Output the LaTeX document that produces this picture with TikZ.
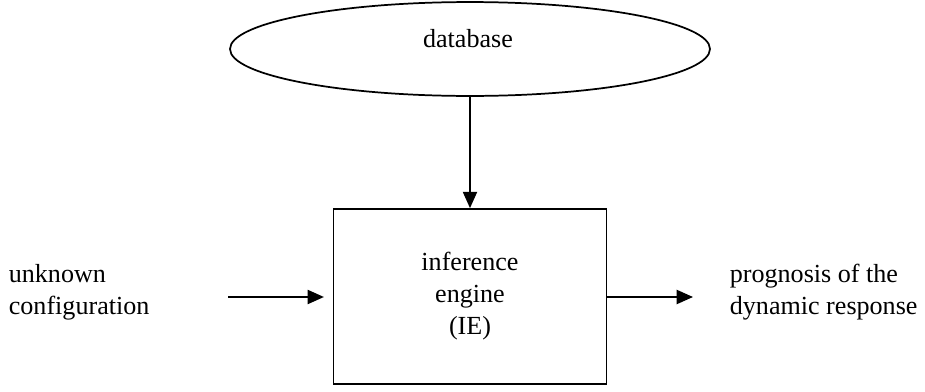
\documentclass[tikz,border=0pt]{standalone}
\usepackage{fontspec}
\setmainfont{Liberation Serif}
\usetikzlibrary{arrows.meta,shapes.geometric}
\begin{document}
\begin{tikzpicture}[x=.46pt,y=-.46pt,line width=.8pt,
  txt/.style={font=\fontsize{12pt}{14.7pt}\selectfont,inner sep=0pt,align=left},
  dbase/.style={draw,ellipse,minimum width=220.8pt,minimum height=43.2pt,inner sep=0pt},
  engine/.style={draw,rectangle,minimum width=125.6pt,minimum height=80.5pt,inner sep=0pt,
    font=\fontsize{12pt}{14.7pt}\selectfont,align=center},
  flow/.style={-{Triangle[length=7.5pt,width=6.5pt]}}]
\useasboundingbox (0,0) rectangle (925,392);
\node[dbase] (db) at (470,49) {};
\node[txt] (dbtext) at (468,39) {database};
\node[engine] (ie) at (470,296.5) {inference\\engine\\(IE)};
%%%%
\node[txt,anchor=west] (in) at (8,292) {unknown\\configuration};
\node[txt,anchor=west] (out) at (729,292) {prognosis of the\\dynamic response};
\coordinate (inL) at (228,297);
\coordinate (outR) at (693,297);
%%%%
\draw[flow] (db.south) -- (db.south |- ie.north);
\draw[flow,shorten >=4pt] (inL) -- (inL -| ie.west);
\draw[flow] (outR -| ie.east) -- (outR);
\end{tikzpicture}
\end{document}
